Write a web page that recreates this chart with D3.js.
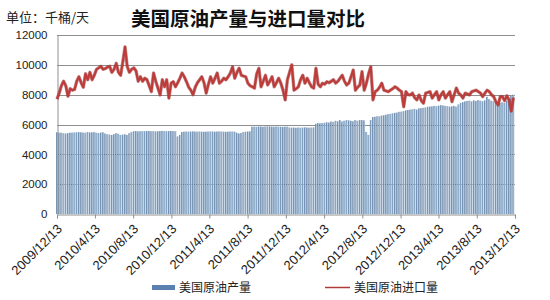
<!DOCTYPE html>
<html>
<head>
<meta charset="utf-8">
<script src="https://cdn.jsdelivr.net/npm/d3@7"></script>
<style>
  body { margin: 0; background: #fff; }
  svg { display: block; font-family: "Liberation Sans", Arial, "Noto Sans CJK SC", sans-serif; }
  .cjk { font-family: "Noto Sans CJK SC", sans-serif; }
</style>
</head>
<body>
<div id="chart"></div>
<script>
// weekly data, thousand barrels / day
var firstWeek = "2009/12/13";

var production = [
  5480, 5450, 5450, 5420, 5400, 5420, 5450, 5460, 5470, 5480,
  5490, 5480, 5460, 5450, 5500, 5470, 5480, 5490, 5450, 5430,
  5460, 5480, 5400, 5350, 5330, 5300, 5350, 5420, 5380, 5300,
  5320, 5350, 5300, 5420, 5500, 5550, 5560, 5540, 5550, 5560,
  5550, 5560, 5570, 5550, 5560, 5540, 5550, 5560, 5570, 5560,
  5550, 5560, 5570, 5560, 5550, 5200, 5300, 5500, 5520, 5530,
  5520, 5530, 5540, 5530, 5520, 5530, 5520, 5510, 5520, 5530,
  5540, 5530, 5520, 5530, 5540, 5530, 5520, 5510, 5520, 5530,
  5530, 5520, 5450, 5400, 5430, 5500, 5520, 5530, 5540, 5850,
  5860, 5850, 5870, 5860, 5850, 5870, 5880, 5870, 5860, 5850,
  5870, 5860, 5850, 5840, 5850, 5860, 5800, 5790, 5800, 5780,
  5800, 5790, 5800, 5810, 5800, 5790, 5800, 5810, 6050, 6100,
  6080, 6100, 6120, 6150, 6130, 6200, 6180, 6250, 6220, 6300,
  6200, 6250, 6300, 6280, 6250, 6220, 6300, 6250, 6300, 6300,
  6280, 5500, 5300, 6300, 6500, 6520, 6550, 6560, 6600, 6620,
  6650, 6700, 6720, 6750, 6780, 6800, 6850, 6860, 6900, 6950,
  6970, 7000, 7020, 7050, 7000, 7080, 7100, 7120, 7150, 7190,
  7200, 7220, 7250, 7230, 7270, 7300, 7280, 7250, 7230, 7200,
  7220, 7250, 7200, 7350, 7450, 7500, 7550, 7580, 7600, 7550,
  7620, 7580, 7640, 7600, 7560, 7620, 7860, 7700, 7600, 7550,
  7500, 7450, 7440, 7500, 7450, 7600, 7700, 7950, 8000
];

var imports = [
  7700, 8100, 8600, 8900, 8600, 7900, 8400, 8300, 8350, 8900,
  9200, 8800, 8500, 9400, 9000, 9500, 9000, 9300, 9700, 9800,
  9900, 9700, 9750, 9850, 9900, 9500, 9700, 10100, 9500, 9300,
  10200, 11200, 9900, 9500, 9700, 9800, 9600, 8900, 9200, 8900,
  9100, 9000, 8600, 8200, 9450, 8900, 8440, 7980, 9000, 8530,
  9000, 7770, 8770, 8870, 8530, 8800, 9100, 9450, 9200, 8870,
  8500, 8300, 8000, 8500, 8800, 9000, 9200, 8800, 8100, 8700,
  9200, 8770, 9100, 9450, 8770, 8900, 9100, 9000, 9200, 9450,
  9870, 9100, 9500, 9770, 9300, 9250, 9200, 8770, 8600, 8530,
  8440, 9400, 9770, 8530, 8900, 9300, 8650, 8900, 9200, 8530,
  8800, 9100, 8770, 8300, 7650, 9000, 9500, 10000, 8300, 8400,
  8530, 9000, 9300, 8770, 9100, 8800, 8530, 8440, 9770, 8700,
  8530, 8770, 8700, 8870, 8800, 8900, 9000, 8770, 8900, 9100,
  9300, 8900, 8650, 8770, 9200, 9650, 8300, 8500, 8650, 9540,
  8300, 8770, 9400, 9870, 7650, 8200, 8300, 8500, 8770, 8300,
  8250, 8200, 8300, 8400, 8530, 8440, 8300, 8200, 7190, 8200,
  8000, 7980, 8100, 7800, 7650, 7980, 7600, 7430, 8100, 8150,
  8200, 7770, 8000, 8200, 7650, 8000, 8200, 7770, 8000, 8200,
  7530, 8000, 8440, 8100, 7980, 7770, 8100, 8050, 7980, 8200,
  8250, 8300, 8200, 8100, 7870, 8100, 8300, 8200, 8000, 7870,
  7530, 7310, 7870, 7870, 7600, 7920, 7650, 6900, 7800
];

var tickLabels = ["2009/12/13", "2010/4/13", "2010/8/13", "2010/12/13", "2011/4/13",
  "2011/8/13", "2011/12/13", "2012/4/13", "2012/8/13", "2012/12/13",
  "2013/4/13", "2013/8/13", "2013/12/13"];
var yTicks = [0, 2000, 4000, 6000, 8000, 10000, 12000];
var seriesNames = ["美国原油产量", "美国原油进口量"];

var W = 550, H = 300;
var mLeft = 57, mRight = 515, mTop = 35, mBottom = 214;

var parse = d3.timeParse("%Y/%m/%d");
var start = parse(firstWeek);
var weeks = production.map(function(d, i) { return d3.timeDay.offset(start, 7 * i); });

var svg = d3.select("#chart").append("svg")
  .attr("width", W)
  .attr("height", H);

var x = d3.scaleTime()
  .domain([parse(tickLabels[0]), parse(tickLabels[tickLabels.length - 1])])
  .range([mLeft, mRight]);

var y = d3.scaleLinear()
  .domain([0, 12000])
  .range([mBottom, mTop]);

// gradient for the bars
var defs = svg.append("defs");
var grad = defs.append("linearGradient").attr("id", "barGrad")
  .attr("x1", "0").attr("x2", "1").attr("y1", "0").attr("y2", "0");
grad.append("stop").attr("offset", "0").attr("stop-color", "#3f6491");
grad.append("stop").attr("offset", "0.45").attr("stop-color", "#93afca");
grad.append("stop").attr("offset", "1").attr("stop-color", "#b6cade");

// grid
svg.append("g")
  .selectAll("line")
  .data(yTicks.slice(1))
  .enter().append("line")
  .attr("x1", mLeft).attr("x2", mRight)
  .attr("y1", function(d) { return Math.round(y(d)) + 0.5; })
  .attr("y2", function(d) { return Math.round(y(d)) + 0.5; })
  .style("stroke", "#8f8f8f")
  .style("stroke-width", 1);

// production bars
var bw = 1.8;
svg.append("g")
  .selectAll("rect")
  .data(production)
  .enter().append("rect")
  .attr("x", function(d, i) { return x(weeks[i]) - bw / 2; })
  .attr("y", function(d) { return y(d); })
  .attr("width", bw)
  .attr("height", function(d) { return y(0) - y(d); })
  .style("fill", "url(#barGrad)");

// y axis
var yAxis = d3.axisLeft(y).tickValues(yTicks).tickSize(0).tickPadding(10).tickFormat(d3.format("d"));
var gy = svg.append("g")
  .attr("transform", "translate(" + (mLeft + 0.5) + ",0)")
  .call(yAxis);
gy.select(".domain").style("stroke", "#8f8f8f");
gy.selectAll("text").style("font-size", "11.5px").style("fill", "#222");

// x axis
var xAxis = d3.axisBottom(x)
  .tickValues(tickLabels.map(parse))
  .tickSize(4)
  .tickFormat(function(d, i) { return tickLabels[i]; });
var gx = svg.append("g")
  .attr("transform", "translate(0," + (mBottom + 0.5) + ")")
  .call(xAxis);
gx.select(".domain").style("stroke", "#8f8f8f");
gx.selectAll(".tick line").style("stroke", "#8f8f8f");
gx.selectAll("text")
  .style("font-size", "13px")
  .style("fill", "#222")
  .style("text-anchor", "end")
  .attr("x", -7)
  .attr("y", 10)
  .attr("dy", "0.35em")
  .attr("transform", "rotate(-45)");

// imports line
var line = d3.line()
  .x(function(d, i) { return x(weeks[i]); })
  .y(function(d) { return y(d); });

svg.append("path")
  .datum(imports)
  .attr("d", line)
  .style("fill", "none")
  .style("stroke", "#8e2a2a")
  .style("stroke-width", 3.4)
  .style("stroke-linejoin", "round")
  .style("opacity", 0.5);

svg.append("path")
  .datum(imports)
  .attr("d", line)
  .style("fill", "none")
  .style("stroke", "#bd3c3a")
  .style("stroke-width", 2.2)
  .style("stroke-linejoin", "round");

// titles
svg.append("text")
  .attr("class", "cjk")
  .attr("x", 6).attr("y", 22)
  .style("font-size", "13px")
  .style("fill", "#222")
  .text("单位：千桶/天");

svg.append("text")
  .attr("class", "cjk")
  .attr("x", 248).attr("y", 26)
  .style("text-anchor", "middle")
  .style("font-size", "19.5px")
  .style("font-weight", "bold")
  .style("fill", "#111")
  .text("美国原油产量与进口量对比");

// legend
var leg = svg.append("g");
leg.append("rect")
  .attr("x", 152).attr("y", 285)
  .attr("width", 23).attr("height", 5)
  .style("fill", "#5a80b0");
leg.append("text")
  .attr("class", "cjk")
  .attr("x", 179).attr("y", 292)
  .style("font-size", "12px")
  .style("fill", "#222")
  .text(seriesNames[0]);
leg.append("line")
  .attr("x1", 325).attr("x2", 350)
  .attr("y1", 287.5).attr("y2", 287.5)
  .style("stroke", "#b03a3a")
  .style("stroke-width", 1.5);
leg.append("text")
  .attr("class", "cjk")
  .attr("x", 354).attr("y", 292)
  .style("font-size", "12px")
  .style("fill", "#222")
  .text(seriesNames[1]);
</script>
</body>
</html>
